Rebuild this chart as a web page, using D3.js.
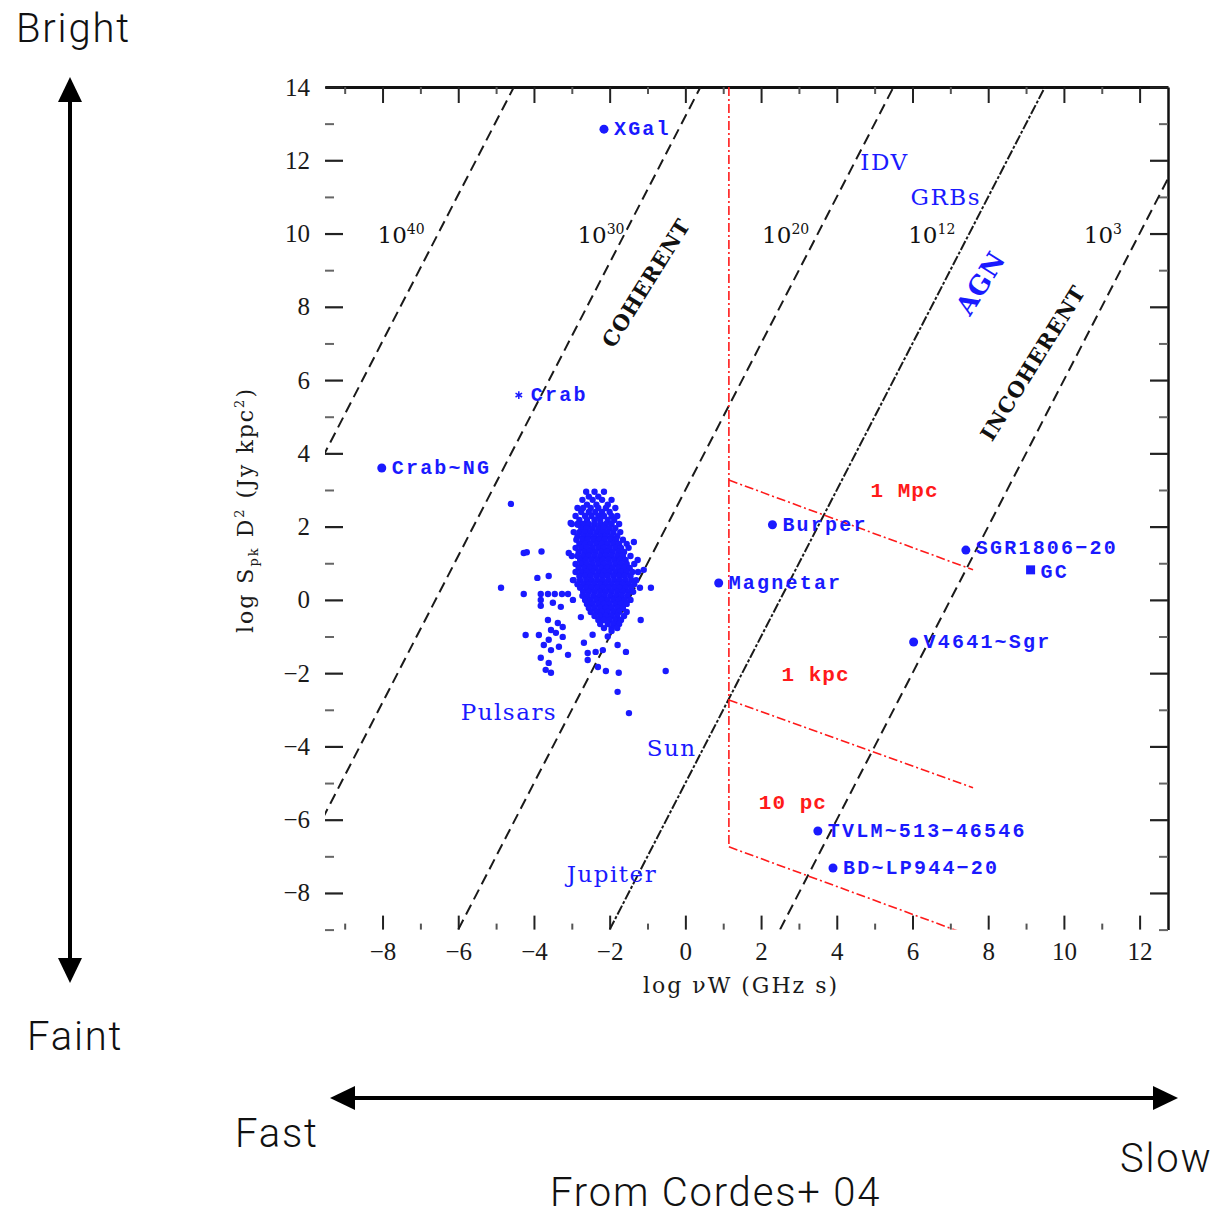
<!DOCTYPE html>
<html><head><meta charset="utf-8">
<script src="https://cdn.jsdelivr.net/npm/d3@7"></script>
<style>body{margin:0;background:#fff}</style>
</head><body>
<svg id="c" width="1214" height="1216"></svg>
<script>
// ---------- data ----------
const xTicks = [-8,-6,-4,-2,0,2,4,6,8,10,12];
const xMinor = [-9,-7,-5,-3,-1,1,3,5,7,9,11];
const yTicks = [-8,-6,-4,-2,0,2,4,6,8,10,12,14];
const yMinor = [-9,-7,-5,-3,-1,1,3,5,7,9,11,13];

// brightness-temperature lines (endpoints in data units)
const tbExp   = ["40","30","20","12","3"];
const tbStart = [[-10,3.06],[-10,-6.8],[-6,-9],[-2,-9],[2.5,-9]];
const tbEnd   = [[-4.53,14],[0.4,14],[5.5,14],[9.5,14],[14,14]];
const tbStyle = ["dash","dash","dash","dashdot","dash"];
const tbLabelX = [-7.51,-2.23,2.65,6.51,11.03];
const tbLabelY = 9.74;

// red distance lines
const redStart = [[1.15,14],[1.15,3.27],[1.15,-2.73],[1.15,-6.74]];
const redEnd   = [[1.15,-6.74],[7.6,0.82],[7.6,-5.13],[7.6,-9.19]];
const redLabels = ["1 Mpc","1 kpc","10 pc"];
const redLabelX = [5.79,3.44,2.84];
const redLabelY = [2.81,-2.21,-5.71];

// labelled sources
const srcNames = ["XGal","Crab","Crab~NG","Burper","SGR1806\u221220","GC","Magnetar","V4641~Sgr","TVLM~513\u221246546","BD~LP944\u221220"];
const srcX = [-2.15,-4.4,-8.02,2.3,7.41,9.12,0.88,6.03,3.5,3.9];
const srcY = [12.85,5.59,3.6,2.05,1.36,0.82,0.46,-1.15,-6.31,-7.32];
const srcMark = ["dot","star","dot","dot","dot","square","dot","dot","dot","dot"];
const srcLabelDy = [0,0,0,0,-2,2,0,0,0,0];

// class labels (no marker)
const classNames = ["Pulsars","Sun","Jupiter","IDV","GRBs"];
const classX = [-4.66,-0.36,-1.94,5.26,6.88];
const classY = [-3.28,-4.26,-7.70,11.73,10.78];
const rotNames = ["COHERENT","INCOHERENT","AGN"];
const rotX = [-1.04,9.18,7.80];
const rotY = [8.65,6.47,8.65];
const rotColor = ["#111","#111","#1a1aff"];

// pulsar population: rows [logSD2, logvW values...]
const pulsarRows = [
 [2.95,-2.62,-2.40,-2.15],
 [2.82,-2.55,-2.30],
 [2.73,-2.72,-2.45,-2.20,-1.95],
 [2.60,-2.60,-2.35,-2.05],
 [2.51,-2.85,-2.70,-2.50,-2.30,-2.10,-1.85],
 [2.40,-2.75,-2.55,-2.38,-2.20,-2.00],
 [2.29,-2.90,-2.65,-2.48,-2.30,-2.15,-1.95,-1.80],
 [2.18,-2.80,-2.60,-2.40,-2.25,-2.05,-1.88],
 [2.07,-3.00,-2.85,-2.70,-2.55,-2.40,-2.25,-2.10,-1.95,-1.75],
 [1.96,-2.75,-2.60,-2.45,-2.30,-2.15,-2.00,-1.85],
 [1.85,-2.95,-2.80,-2.65,-2.50,-2.35,-2.20,-2.05,-1.90,-1.72],
 [1.74,-2.85,-2.70,-2.55,-2.40,-2.25,-2.10,-1.95,-1.80],
 [1.64,-2.88,-2.72,-2.58,-2.43,-2.28,-2.13,-1.98,-1.83,-1.65],
 [1.53,-2.80,-2.65,-2.50,-2.35,-2.20,-2.05,-1.90,-1.75,-1.55],
 [1.42,-2.90,-2.75,-2.60,-2.45,-2.30,-2.15,-2.00,-1.85,-1.70,-1.50],
 [1.31,-2.82,-2.67,-2.52,-2.37,-2.22,-2.07,-1.92,-1.77,-1.62],
 [1.20,-3.00,-2.85,-2.70,-2.55,-2.40,-2.25,-2.10,-1.95,-1.80,-1.65,-1.45],
 [1.09,-2.78,-2.63,-2.48,-2.33,-2.18,-2.03,-1.88,-1.73,-1.58],
 [0.98,-2.90,-2.75,-2.60,-2.45,-2.30,-2.15,-2.00,-1.85,-1.70,-1.55,-1.35],
 [0.87,-2.82,-2.67,-2.52,-2.37,-2.22,-2.07,-1.92,-1.77,-1.62,-1.47],
 [0.76,-2.90,-2.75,-2.60,-2.45,-2.30,-2.15,-2.00,-1.85,-1.70,-1.55,-1.40,-1.25],
 [0.65,-2.80,-2.65,-2.50,-2.35,-2.20,-2.05,-1.90,-1.75,-1.60,-1.45],
 [0.54,-2.95,-2.78,-2.62,-2.48,-2.33,-2.18,-2.03,-1.88,-1.73,-1.58,-1.43,-1.30],
 [0.43,-2.85,-2.70,-2.55,-2.40,-2.25,-2.10,-1.95,-1.80,-1.65,-1.50,-1.35],
 [0.33,-2.78,-2.62,-2.48,-2.33,-2.18,-2.03,-1.88,-1.73,-1.58,-1.43,-1.20],
 [0.22,-2.70,-2.55,-2.40,-2.25,-2.10,-1.95,-1.80,-1.65,-1.50,-1.38],
 [0.11,-2.72,-2.58,-2.43,-2.28,-2.13,-1.98,-1.83,-1.68,-1.53],
 [0.00,-2.65,-2.50,-2.35,-2.20,-2.05,-1.90,-1.75,-1.60,-1.45],
 [-0.11,-2.60,-2.45,-2.30,-2.15,-2.00,-1.85,-1.70,-1.55],
 [-0.22,-2.55,-2.40,-2.25,-2.10,-1.95,-1.80,-1.65],
 [-0.33,-2.50,-2.35,-2.20,-2.05,-1.90,-1.75,-1.55],
 [-0.44,-2.40,-2.25,-2.10,-1.95,-1.80,-1.62],
 [-0.55,-2.30,-2.15,-2.00,-1.85,-1.70],
 [-0.66,-2.25,-2.05,-1.90,-1.75],
 [-0.77,-2.15,-1.95,-1.80]
];
const pulsarOutliers = [
 [-4.61,2.62],[-4.87,0.33],[-4.27,1.28],[-4.19,1.30],[-3.80,1.32],[-3.91,0.60],[-3.61,0.65],
 [-4.27,0.16],[-3.82,0.16],[-3.63,0.16],[-3.45,0.16],[-3.26,0.16],[-3.10,0.16],
 [-3.82,0.0],[-3.82,-0.16],[-3.50,-0.08],[-3.29,-0.19],
 [-3.63,-0.55],[-3.37,-0.63],[-3.55,-0.82],[-3.24,-0.74],[-4.22,-0.96],
 [-3.87,-0.96],[-3.61,-1.09],[-3.42,-0.90],[-3.24,-1.01],
 [-3.74,-1.23],[-3.55,-1.37],[-3.34,-1.28],[-3.82,-1.58],[-3.61,-1.72],[-3.10,-1.50],
 [-3.69,-1.91],[-3.55,-1.99],[-2.68,-1.17],[-2.58,-1.45],[-2.58,-1.64],
 [-2.31,-1.83],[-2.10,-1.94],[-1.76,-1.99],[-0.52,-1.94],[-1.79,-2.51],[-1.49,-3.09],
 [-2.37,-1.42],[-2.18,-1.37],[-1.79,-1.23],[-1.57,-1.42],[-1.18,-0.55],[-0.91,0.33],
 [-1.26,1.09],[-1.36,1.58],[-1.10,0.82],[-3.03,2.10],[-2.84,2.05],[-3.08,1.28],
 [-2.97,0.54],[-2.97,0.0],[-2.76,-0.47],[-2.05,-1.0],[-2.45,-0.95],[-1.95,-0.85]
];

// ---------- drawing ----------
const svg = d3.select("#c");
const L = 325, R = 1168, T = 87, B = 929.6;
const x = d3.scaleLinear().domain([-9.52,12.75]).range([L,R]);
const y = d3.scaleLinear().domain([-9,14]).range([B,T]);
const BLUE = "#1a1aff", RED = "#ff1a1a";

svg.append("defs").append("clipPath").attr("id","plot")
  .append("rect").attr("x",L).attr("y",T).attr("width",R-L).attr("height",B-T);

const tickFont = "'Liberation Serif', serif";
function styleAxis(g, w, col){
  g.selectAll(".tick line").attr("stroke",col).attr("stroke-width",w);
  g.selectAll("text").attr("font-family",tickFont).attr("font-size",25).attr("fill","#1a1a1a");
}
const fmt = d => d<0 ? "\u2212"+Math.abs(d) : String(d);

// bottom (no spine)
let g = svg.append("g").attr("transform",`translate(0,${B})`)
  .call(d3.axisBottom(x).tickValues(xTicks).tickSize(-14).tickSizeOuter(0).tickPadding(13).tickFormat(fmt));
g.select(".domain").remove(); styleAxis(g,2,"#222");
g = svg.append("g").attr("transform",`translate(0,${B})`)
  .call(d3.axisBottom(x).tickValues(xMinor).tickSize(-6).tickSizeOuter(0).tickFormat(""));
g.select(".domain").remove(); styleAxis(g,2,"#555");
// top
g = svg.append("g").attr("transform",`translate(0,${T})`)
  .call(d3.axisTop(x).tickValues(xTicks).tickSize(-16).tickSizeOuter(0).tickFormat(""));
g.select(".domain").attr("stroke","#111").attr("stroke-width",3); styleAxis(g,2,"#222");
g = svg.append("g").attr("transform",`translate(0,${T})`)
  .call(d3.axisTop(x).tickValues(xMinor).tickSize(-7).tickSizeOuter(0).tickFormat(""));
g.select(".domain").remove(); styleAxis(g,2,"#555");
// left (no spine)
g = svg.append("g").attr("transform",`translate(${L},0)`)
  .call(d3.axisLeft(y).tickValues(yTicks).tickSize(-18).tickSizeOuter(0).tickPadding(15).tickFormat(fmt));
g.select(".domain").remove(); styleAxis(g,2.2,"#222");
g = svg.append("g").attr("transform",`translate(${L},0)`)
  .call(d3.axisLeft(y).tickValues(yMinor).tickSize(-9).tickSizeOuter(0).tickFormat(""));
g.select(".domain").remove(); styleAxis(g,2,"#666");
// right
g = svg.append("g").attr("transform",`translate(${R},0)`)
  .call(d3.axisRight(y).tickValues(yTicks).tickSize(-18).tickSizeOuter(0).tickFormat(""));
g.select(".domain").attr("stroke","#111").attr("stroke-width",2.5); styleAxis(g,2.2,"#222");
g = svg.append("g").attr("transform",`translate(${R},0)`)
  .call(d3.axisRight(y).tickValues(yMinor).tickSize(-9).tickSizeOuter(0).tickFormat(""));
g.select(".domain").remove(); styleAxis(g,2,"#666");

// axis titles
svg.append("text").attr("x",741).attr("y",993).attr("text-anchor","middle")
  .attr("font-family","'DejaVu Serif', serif").attr("font-size",22).attr("fill","#1a1a1a")
  .attr("letter-spacing",2)
  .text("log \u03BDW  (GHz s)");
const yt = svg.append("text").attr("transform","translate(253,510) rotate(-90)")
  .attr("text-anchor","middle").attr("font-family","'DejaVu Serif', serif")
  .attr("font-size",22).attr("fill","#1a1a1a").attr("letter-spacing",2);
yt.append("tspan").text("log S");
yt.append("tspan").attr("font-size",13).attr("dy",5).text("pk");
yt.append("tspan").attr("dy",-5).text("  D");
yt.append("tspan").attr("font-size",13).attr("dy",-9).text("2");
yt.append("tspan").attr("dy",9).text("   (Jy kpc");
yt.append("tspan").attr("font-size",13).attr("dy",-9).text("2");
yt.append("tspan").attr("dy",9).text(")");

// plot content
const plot = svg.append("g").attr("clip-path","url(#plot)");
const line = d3.line().x(d=>x(d[0])).y(d=>y(d[1]));

tbStart.forEach((s,i)=>{
  plot.append("path").attr("d",line([s,tbEnd[i]])).attr("fill","none")
    .attr("stroke","#1a1a1a").attr("stroke-width",2)
    .attr("stroke-dasharray", tbStyle[i]==="dash" ? "11,6" : "10,2,3,2");
});
redStart.forEach((s,i)=>{
  plot.append("path").attr("d",line([s,redEnd[i]])).attr("fill","none")
    .attr("stroke",RED).attr("stroke-width",1.6).attr("stroke-dasharray","9,3,2,3");
});

// Tb labels
tbExp.forEach((e,i)=>{
  const t = svg.append("text").attr("x",x(tbLabelX[i])).attr("y",y(tbLabelY))
    .attr("text-anchor","middle").attr("font-family","'DejaVu Serif', serif")
    .attr("font-size",23).attr("fill","#111");
  t.append("tspan").text("10");
  t.append("tspan").attr("font-size",14).attr("dy",-9).text(e);
});

// red labels
redLabels.forEach((l,i)=>{
  svg.append("text").attr("x",x(redLabelX[i])).attr("y",y(redLabelY[i]))
    .attr("text-anchor","middle").attr("font-family","'Liberation Mono', monospace")
    .attr("font-weight","bold").attr("font-size",21).attr("letter-spacing",1).attr("fill",RED).text(l);
});

// pulsars
const pulsars = [];
pulsarRows.forEach(r=>{ for(let k=1;k<r.length;k++) pulsars.push([r[k],r[0]]); });
pulsarOutliers.forEach(p=>pulsars.push(p));
plot.append("g").selectAll("circle").data(pulsars).join("circle")
  .attr("cx",d=>x(d[0])).attr("cy",d=>y(d[1])).attr("r",3.2).attr("fill",BLUE);

// sources
srcNames.forEach((n,i)=>{
  const cx = x(srcX[i]), cy = y(srcY[i]);
  if(srcMark[i]==="dot") svg.append("circle").attr("cx",cx).attr("cy",cy).attr("r",4.5).attr("fill",BLUE);
  else if(srcMark[i]==="square") svg.append("rect").attr("x",cx-4.5).attr("y",cy-4.5).attr("width",9).attr("height",9).attr("fill",BLUE);
  else svg.append("path").attr("transform",`translate(${cx},${cy})`)
        .attr("d",d3.symbol(d3.symbolAsterisk,40)()).attr("stroke",BLUE).attr("stroke-width",1.5).attr("fill","none");
  svg.append("text").attr("x",cx+(srcMark[i]==="star"?12:10)).attr("y",cy+6+srcLabelDy[i])
    .attr("font-family","'Liberation Mono', monospace").attr("font-weight","bold")
    .attr("font-size",20).attr("letter-spacing",2.2).attr("fill",BLUE).text(n);
});

// class labels
classNames.forEach((n,i)=>{
  svg.append("text").attr("x",x(classX[i])).attr("y",y(classY[i])).attr("text-anchor","middle")
    .attr("font-family","'DejaVu Serif', serif").attr("font-size",23).attr("letter-spacing",1.5)
    .attr("fill",BLUE).text(n);
});
rotNames.forEach((n,i)=>{
  svg.append("text").attr("transform",`translate(${x(rotX[i])},${y(rotY[i])}) rotate(-58)`)
    .attr("text-anchor","middle").attr("dominant-baseline","central")
    .attr("font-family","'DejaVu Serif', serif").attr("font-weight","bold")
    .attr("font-size",i===2?26:21).attr("letter-spacing",1).attr("fill",rotColor[i]).text(n);
});

// outer annotations
const outerText = ["Bright","Faint","Fast","Slow","From Cordes+ 04"];
const outerX = [16,27,235,1120,550];
const outerY = [42,1050,1147,1172,1206];
outerText.forEach((t,i)=>{
  svg.append("text").attr("x",outerX[i]).attr("y",outerY[i])
    .attr("font-family","Roboto, sans-serif").attr("font-weight",300)
    .attr("font-size",40).attr("letter-spacing",1.8).attr("fill","#111").text(t);
});
// arrows
svg.append("line").attr("x1",70).attr("y1",100).attr("x2",70).attr("y2",960).attr("stroke","#000").attr("stroke-width",4);
svg.append("path").attr("d","M70,77 L58,102 L82,102 Z").attr("fill","#000");
svg.append("path").attr("d","M70,983 L58,958 L82,958 Z").attr("fill","#000");
svg.append("line").attr("x1",352).attr("y1",1098).attr("x2",1156).attr("y2",1098).attr("stroke","#000").attr("stroke-width",4);
svg.append("path").attr("d","M330,1098 L355,1086 L355,1110 Z").attr("fill","#000");
svg.append("path").attr("d","M1178,1098 L1153,1086 L1153,1110 Z").attr("fill","#000");
</script>
</body></html>
